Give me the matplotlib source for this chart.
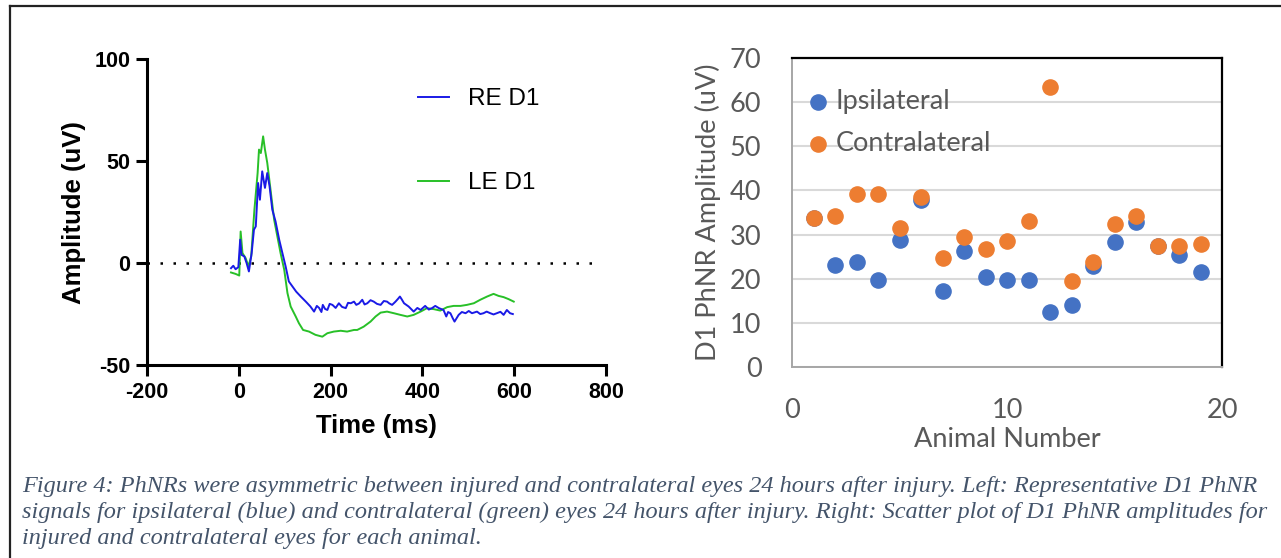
import numpy as np
import matplotlib.pyplot as plt
from matplotlib.lines import Line2D

plt.rcParams['axes.unicode_minus'] = False

# PhNR traces, day 1 (time in ms, amplitude in uV)
re_t = [-17, -12, -7, -1, 3, 6, 12, 17, 22, 28, 33, 37, 42, 46, 51, 57, 62, 67,
        73, 80, 88, 95, 102, 109, 117, 125, 135, 146, 156, 164, 170, 175, 180,
        183, 188, 193, 198, 204, 211, 218, 225, 233, 238, 244, 251, 256, 262,
        269, 274, 280, 287, 294, 301, 309, 316, 323, 328, 334, 341, 347, 351,
        355, 360, 370, 381, 389, 396, 406, 414, 421, 428, 436, 446, 452, 456,
        461, 466, 470, 479, 486, 494, 501, 508, 519, 526, 533, 540, 548, 555,
        562, 570, 577, 584, 591, 597]
re_amp = [-2.5, -1.3, -3.0, -2.0, 11.5, 4.0, 3.3, 0.0, -4.1, 4.9, 16.4, 18.0,
          39.3, 31.1, 45.0, 36.9, 44.2, 37.7, 26.2, 20.5, 11.5, 4.9, -1.6,
          -9.0, -11.5, -14.0, -16.4, -18.9, -21.3, -23.8, -21.0, -22.0, -24.0,
          -20.5, -22.5, -23.0, -20.0, -20.5, -22.0, -19.7, -21.5, -22.1, -19.5,
          -19.7, -18.9, -20.5, -19.8, -18.0, -20.3, -19.7, -18.2, -18.9, -20.0,
          -20.5, -18.6, -18.9, -19.8, -20.5, -19.0, -17.5, -16.4, -17.8, -19.7,
          -21.3, -23.8, -22.0, -23.0, -21.0, -22.8, -22.1, -21.0, -22.1, -23.0,
          -26.2, -24.0, -24.6, -27.0, -28.7, -25.4, -24.0, -24.6, -23.5, -24.6,
          -23.8, -25.0, -24.6, -23.8, -24.6, -25.2, -24.6, -23.9, -25.4, -23.0,
          -24.6, -25.0]

le_t = [-17, -7, 1, 4, 8, 15, 21, 27, 34, 41, 44, 48, 53, 57, 62, 70, 77, 84,
        91, 99, 106, 113, 124, 131, 140, 153, 167, 182, 193, 207, 222, 236,
        251, 258, 272, 287, 298, 309, 323, 338, 352, 367, 381, 396, 410, 425,
        439, 454, 468, 483, 497, 512, 526, 541, 555, 566, 577, 588, 599]
le_amp = [-4.6, -5.3, -6.1, 15.5, 4.9, 2.4, -1.6, 3.3, 26.2, 44.2, 55.7, 54.0,
          62.2, 55.7, 49.2, 34.4, 21.3, 13.1, 4.9, -3.3, -14.7, -21.3, -26.2,
          -29.5, -32.8, -33.6, -35.2, -36.1, -34.4, -33.6, -33.2, -33.6, -32.8,
          -32.8, -31.2, -28.7, -26.2, -24.3, -23.8, -24.6, -25.4, -26.2, -25.4,
          -23.8, -22.1, -22.6, -23.3, -21.6, -21.0, -21.0, -20.5, -19.7, -18.0,
          -16.4, -15.1, -16.1, -16.7, -17.7, -18.9]

# D1 PhNR amplitude per animal
animal = list(range(1, 20))
ipsi = [33.8, 23.0, 23.7, 19.6, 28.8, 37.8, 17.2, 26.3, 20.5, 19.6,
        19.6, 12.5, 14.0, 22.9, 28.3, 32.8, 27.5, 25.4, 21.6]
contra = [33.8, 34.1, 39.3, 39.3, 31.6, 38.6, 24.7, 29.5, 26.8, 28.5,
          33.1, 63.4, 19.5, 23.7, 32.5, 34.1, 27.5, 27.5, 27.9]

caption = [
    "Figure 4: PhNRs were asymmetric between injured and contralateral eyes 24 hours after injury. Left: Representative D1 PhNR",
    "signals for ipsilateral (blue) and contralateral (green) eyes 24 hours after injury. Right: Scatter plot of D1 PhNR amplitudes for",
    "injured and contralateral eyes for each animal.",
]

W, H = 1281, 558
fig = plt.figure(figsize=(W / 100, H / 100), dpi=100)

# frame line round the figure (left and top edges)
fig.add_artist(Line2D([10 / W, 10 / W], [0, 1 - 6 / H], color='#222222', lw=1.6))
fig.add_artist(Line2D([10 / W, 1], [1 - 6 / H, 1 - 6 / H], color='#222222', lw=1.6))

# ---- left: traces ----
bold = dict(family='Liberation Sans', weight='bold')
ax1 = fig.add_axes([147 / W, 1 - 365 / H, (606 - 147) / W, (365 - 59.3) / H])
ax1.plot([-200, 790], [0, 0], color='black', ls=(0, (1, 4.2)), lw=1.8, zorder=1)
ax1.plot(re_t, re_amp, color='#1a1ae6', lw=1.4, label='RE D1', zorder=3)
ax1.plot(le_t, le_amp, color='#28c028', lw=1.4, label='LE D1', zorder=2)
ax1.set_xlim(-200, 800)
ax1.set_ylim(-50, 100)
ax1.set_xticks([-200, 0, 200, 400, 600, 800])
ax1.set_yticks([-50, 0, 50, 100])
for s in ['top', 'right']:
    ax1.spines[s].set_visible(False)
for s in ['left', 'bottom']:
    ax1.spines[s].set_linewidth(2.2)
ax1.tick_params(direction='out', length=8, width=2.2, pad=4)
for lab in ax1.get_xticklabels() + ax1.get_yticklabels():
    lab.set_fontproperties(bold)
    lab.set_fontsize(15.5)
ax1.set_xlabel('Time (ms)', fontsize=18.5, labelpad=8, **bold)
ax1.set_ylabel('Amplitude (uV)', fontsize=18.5, labelpad=6, **bold)
leg1 = ax1.legend(loc='upper left', bbox_to_anchor=(0.59, 0.905), frameon=False,
                  prop=dict(family='Liberation Sans', size=17.5),
                  handlelength=1.3, handletextpad=0.75, labelspacing=2.55,
                  borderpad=0, borderaxespad=0)

# ---- right: scatter ----
grey = '#595959'
ax2 = fig.add_axes([792 / W, 1 - 367 / H, (1222 - 792) / W, (367 - 58) / H])
ax2.scatter(animal, ipsi, s=120, color='#4472c4', label='Ipsilateral', zorder=3)
ax2.scatter(animal, contra, s=120, color='#ed7d31', label='Contralateral', zorder=4)
ax2.set_xlim(0, 20)
ax2.set_ylim(0, 70)
ax2.set_xticks([0, 10, 20])
ax2.set_yticks(range(0, 80, 10))
ax2.grid(axis='y', color='#d9d9d9', lw=1.5, zorder=0)
ax2.set_axisbelow(True)
ax2.spines['top'].set_color('black')
ax2.spines['right'].set_color('black')
ax2.spines['top'].set_linewidth(1.6)
ax2.spines['right'].set_linewidth(1.6)
ax2.spines['left'].set_color('#a6a6a6')
ax2.spines['bottom'].set_color('#a6a6a6')
ax2.spines['left'].set_linewidth(1.4)
ax2.spines['bottom'].set_linewidth(1.4)
ax2.tick_params(length=0, labelsize=19.5, labelcolor=grey)
ax2.tick_params(axis='y', pad=22)
ax2.tick_params(axis='x', pad=22)
for lab in ax2.get_xticklabels() + ax2.get_yticklabels():
    lab.set_family('Lato')
ax2.set_xlabel('Animal Number', fontsize=19.5, color=grey, family='Lato', labelpad=3)
ax2.set_ylabel('D1 PhNR Amplitude (uV)', fontsize=19.5, color=grey, family='Lato', labelpad=6)
leg2 = ax2.legend(loc='upper left', bbox_to_anchor=(0.035, 0.90), frameon=False,
                  prop=dict(family='Lato', size=19.5), handlelength=0.8,
                  handletextpad=0.25, labelspacing=0.62, borderpad=0, borderaxespad=0)
for t in leg2.get_texts():
    t.set_color(grey)

# ---- caption ----
for i, line in enumerate(caption):
    fig.text(22 / W, 1 - (492 + i * 25.8) / H, line, fontsize=17.5, style='italic',
             family='Liberation Serif', color='#44546a', va='baseline')

fig.savefig('out.png', dpi=100)
